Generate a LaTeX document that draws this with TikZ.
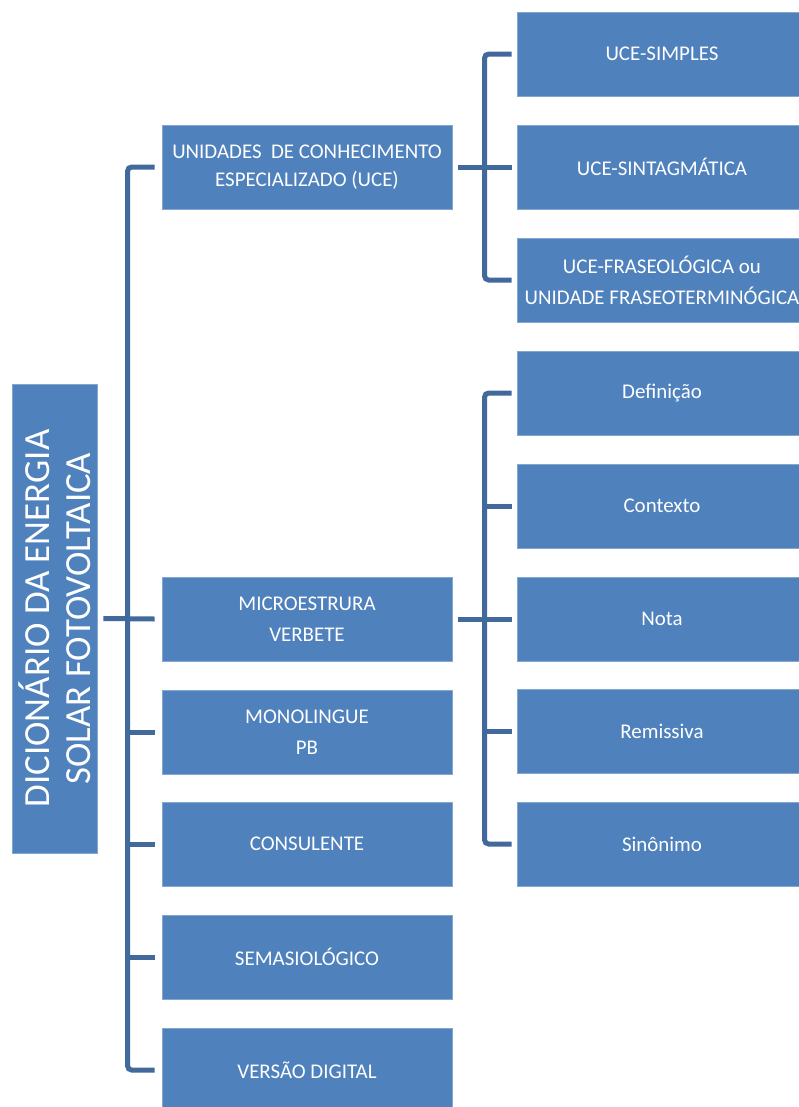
\documentclass[tikz,border=0pt]{standalone}
\usepackage{fontspec}
\setmainfont{Carlito}
\definecolor{boxblue}{HTML}{4F81BD}
\definecolor{lineblue}{RGB}{65,105,155}

\begin{document}
\begin{tikzpicture}[x=1bp,y=-1bp,
  box/.style={fill=boxblue,draw=boxblue!70!white,line width=0.8bp,text=white,
    minimum width=290bp,minimum height=84bp,inner sep=0pt,align=center,
    font=\fontsize{21}{31}\selectfont},
  link/.style={draw=lineblue,line width=5bp,rounded corners=4bp}]
\useasboundingbox (0,0) rectangle (799,1107);
\clip (0,0) rectangle (799,1107);
% root box
\node[box,rotate=90,minimum width=469bp,minimum height=85bp,
  font=\fontsize{37}{41}\selectfont] (root) at (54.5,618.5)
  {DICIONÁRIO DA ENERGIA\\SOLAR FOTOVOLTAICA};
% middle column
\node[box,font=\fontsize{21}{28}\selectfont] (uce) at (307,167)
  {UNIDADES\ \ DE CONHECIMENTO\\ESPECIALIZADO (UCE)};
\node[box] (micro) at (307,619) {MICROESTRURA\\VERBETE};
\node[box] (mono) at (307,732) {MONOLINGUE\\PB};
\node[box] (cons) at (307,844) {CONSULENTE};
\node[box] (sema) at (307,957) {SEMASIOLÓGICO};
\node[box] (dig) at (307,1070) {VERSÃO DIGITAL};
% right column
\node[box] (simp) at (662,54) {UCE-SIMPLES};
\node[box] (sint) at (662,167) {UCE-SINTAGMÁTICA};
\node[box] (fras) at (662,280) {UCE-FRASEOLÓGICA ou\\UNIDADE FRASEOTERMINÓGICA};
\node[box] (defi) at (662,393) {Definição};
\node[box] (cont) at (662,506) {Contexto};
\node[box] (nota) at (662,619) {Nota};
\node[box] (remi) at (662,731) {Remissiva};
\node[box] (sino) at (662,844) {Sinônimo};
% trunk
\draw[link] ([xshift=6bp]root.south) -- ([xshift=-7bp]micro.west);
\draw[link] ([xshift=-7bp]uce.west) -- ++(-27,0) |- ([xshift=-7bp]dig.west);
\foreach \n in {mono,cons,sema}
  \draw[link] ([xshift=-7bp]\n.west) -- ++(-27,0);
% UCE branch
\draw[link] ([xshift=6bp]uce.east) -- ([xshift=-5bp]sint.west);
\draw[link] ([xshift=-5bp]simp.west) -- ++(-27,0) |- ([xshift=-5bp]fras.west);
% micro branch
\draw[link] ([xshift=6bp]micro.east) -- ([xshift=-5bp]nota.west);
\draw[link] ([xshift=-5bp]defi.west) -- ++(-27,0) |- ([xshift=-5bp]sino.west);
\foreach \n in {cont,remi}
  \draw[link] ([xshift=-5bp]\n.west) -- ++(-27,0);
\end{tikzpicture}
\end{document}
